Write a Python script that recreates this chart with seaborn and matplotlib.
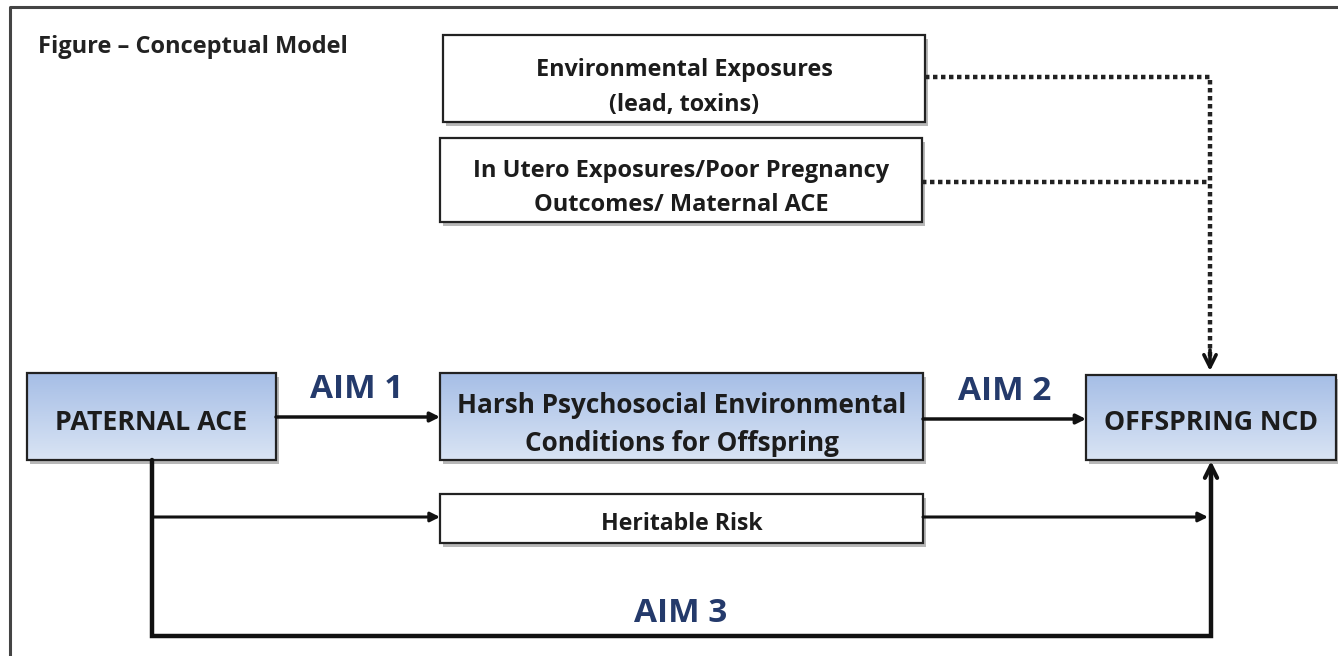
import numpy as np
import matplotlib
matplotlib.use("Agg")
import matplotlib.pyplot as plt
import seaborn as sns
from matplotlib.patches import Rectangle

sns.set_theme(style="white")
plt.rcParams['font.family'] = ['Open Sans', 'DejaVu Sans']

# ---- data ----
title = "Figure \u2013 Conceptual Model"
box_names = ["env", "utero", "paternal", "harsh", "ncd", "heritable"]
box_labels = ["Environmental Exposures\n(lead, toxins)",
              "In Utero Exposures/Poor Pregnancy\nOutcomes/ Maternal ACE",
              "PATERNAL ACE",
              "Harsh Psychosocial Environmental\nConditions for Offspring",
              "OFFSPRING NCD",
              "Heritable Risk"]
box_filled = [False, False, True, True, True, False]
aim_labels = ["AIM 1", "AIM 2", "AIM 3"]

# ---- layout (pixels) ----
box_x0 = [443, 440, 27, 440, 1086, 440]
box_x1 = [925, 922, 276, 923, 1336, 923]
box_y0 = [35, 138, 373, 373, 375, 494]
box_y1 = [122, 222, 460, 460, 460, 543]
box_fs = [16.8, 17, 19.3, 18.8, 19.2, 16.6]
box_ls = [1.62, 1.55, 1.2, 1.5, 1.2, 1.2]
box_dy = [9, 8, 7, 8, 6, 6]

W, H = 1338, 656
fig = plt.figure(figsize=(W/100, H/100), dpi=100)
ax = fig.add_axes([0, 0, 1, 1])
ax.set_xlim(0, W)
ax.set_ylim(H, 0)
ax.axis("off")

# outer frame
ax.plot([10, 10, W + 5], [H + 5, 7, 7], color="#444444", lw=2.2, solid_capstyle="butt")

ax.text(38, 47, title, fontsize=17, fontweight="bold", color="#222222", va="center", ha="left")

grad = np.linspace(0, 1, 100).reshape(-1, 1)
cmap = matplotlib.colors.LinearSegmentedColormap.from_list("bg", ["#a6bee6", "#d9e4f4"])

for name, lab, filled, x0, x1, y0, y1, fs, ls, dy in zip(box_names, box_labels, box_filled,
                                                        box_x0, box_x1, box_y0, box_y1,
                                                        box_fs, box_ls, box_dy):
    # shadow
    ax.add_patch(Rectangle((x0 + 3, y0 + 4), x1 - x0, y1 - y0, facecolor="#b8b8b8",
                           edgecolor="none", zorder=2))
    if filled:
        ax.imshow(grad, extent=(x0, x1, y1, y0), cmap=cmap, aspect="auto", zorder=3)
        ax.add_patch(Rectangle((x0, y0), x1 - x0, y1 - y0, facecolor="none",
                               edgecolor="#222222", lw=1.6, zorder=4))
    else:
        ax.add_patch(Rectangle((x0, y0), x1 - x0, y1 - y0, facecolor="white",
                               edgecolor="#222222", lw=1.6, zorder=4))
    ax.text((x0 + x1) / 2, (y0 + y1) / 2 + dy, lab, fontsize=fs, fontweight="bold",
            color="#1c1c1c", ha="center", va="center", linespacing=ls, zorder=5)

ax.set_xlim(0, W)
ax.set_ylim(H, 0)

def arrow(x0, y0, x1, y1, style="-|>", lw=2.5, ms=14):
    ax.annotate("", xy=(x1, y1), xytext=(x0, y0),
                arrowprops=dict(arrowstyle=style, color="#111111", lw=lw,
                                mutation_scale=ms, shrinkA=0, shrinkB=0), zorder=6)

# solid connectors
arrow(276, 417, 440, 417)
arrow(923, 419, 1086, 419)
ax.plot([152, 152, 1211, 1211], [460, 636, 636, 475], color="#111111", lw=3.2, zorder=6,
        solid_joinstyle="miter")
arrow(1211, 480, 1211, 461, style="->", lw=3, ms=22)
arrow(152, 517, 440, 517, lw=2.2)
arrow(923, 517, 1208, 517, lw=2.2)

# dotted connectors
dot = (0, (1, 0.8))
ax.plot([925, 1210, 1210], [77, 77, 360], color="#222222", lw=3.2, ls=dot, zorder=6)
ax.plot([922, 1210], [182, 182], color="#222222", lw=3.2, ls=dot, zorder=6)
arrow(1210, 350, 1210, 371, style="->", lw=2.6, ms=22)

aim_color = "#243a6b"
ax.text(357, 390, aim_labels[0], fontsize=24, fontweight="bold", color=aim_color, ha="center", va="center")
ax.text(1005, 392, aim_labels[1], fontsize=24, fontweight="bold", color=aim_color, ha="center", va="center")
ax.text(681, 614, aim_labels[2], fontsize=24, fontweight="bold", color=aim_color, ha="center", va="center")

fig.savefig("out.png", dpi=100)
